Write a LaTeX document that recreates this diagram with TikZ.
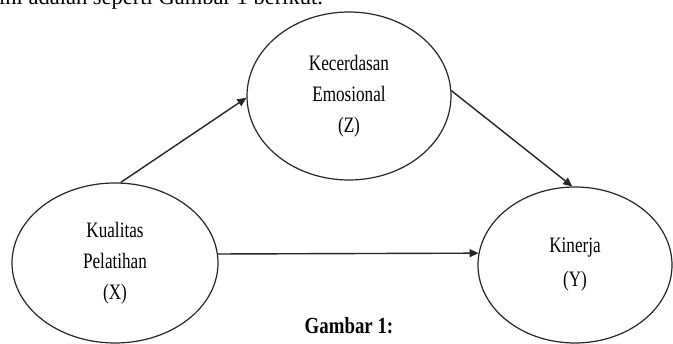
\documentclass[tikz,border=0pt]{standalone}
\usepackage{fontspec}
\setmainfont{Liberation Serif}
\usetikzlibrary{shapes.geometric,arrows.meta}
\tikzset{
  var/.style={ellipse, draw=black!85, line width=1.2pt, inner sep=0pt, align=center,
    font=\fontsize{22}{31}\selectfont},
  link/.style={draw=black!85, line width=1.4pt, -{Triangle[length=9pt,width=8pt]}},
}
\newcommand{\sq}[1]{\scalebox{0.78}[1]{#1}}
\begin{document}
\begin{tikzpicture}[x=1pt,y=-1pt]
\clip (0,0) rectangle (673,344);
\fill[white] (0,0) rectangle (673,344);
\node[anchor=base west, font=\fontsize{22.5}{26}\selectfont, inner sep=0pt] (top) at (-1,5) {ini adalah seperti Gambar 1 berikut.};
\node[var, minimum width=204pt, minimum height=168pt] (Z) at (349,96)
  {\sq{Kecerdasan}\\\sq{Emosional}\\\sq{(Z)}};
\node[var, minimum width=206pt, minimum height=160pt] (X) at (115,263)
  {\sq{Kualitas}\\\sq{Pelatihan}\\\sq{(X)}};
\node[var, minimum width=194pt, minimum height=156pt, font=\fontsize{22}{34}\selectfont] (Y) at (575,265)
  {\sq{Kinerja}\\\sq{(Y)}};
\draw[link] (X.86) -- (Z.181);
\draw[link] (Z.3) -- (Y.92);
\draw[link] (X.5) -- (Y.173);
\node[font=\fontsize{23}{26}\selectfont\bfseries, inner sep=0pt] (cap) at (349,326) {\scalebox{0.82}[1]{Gambar 1:}};
\end{tikzpicture}
\end{document}
